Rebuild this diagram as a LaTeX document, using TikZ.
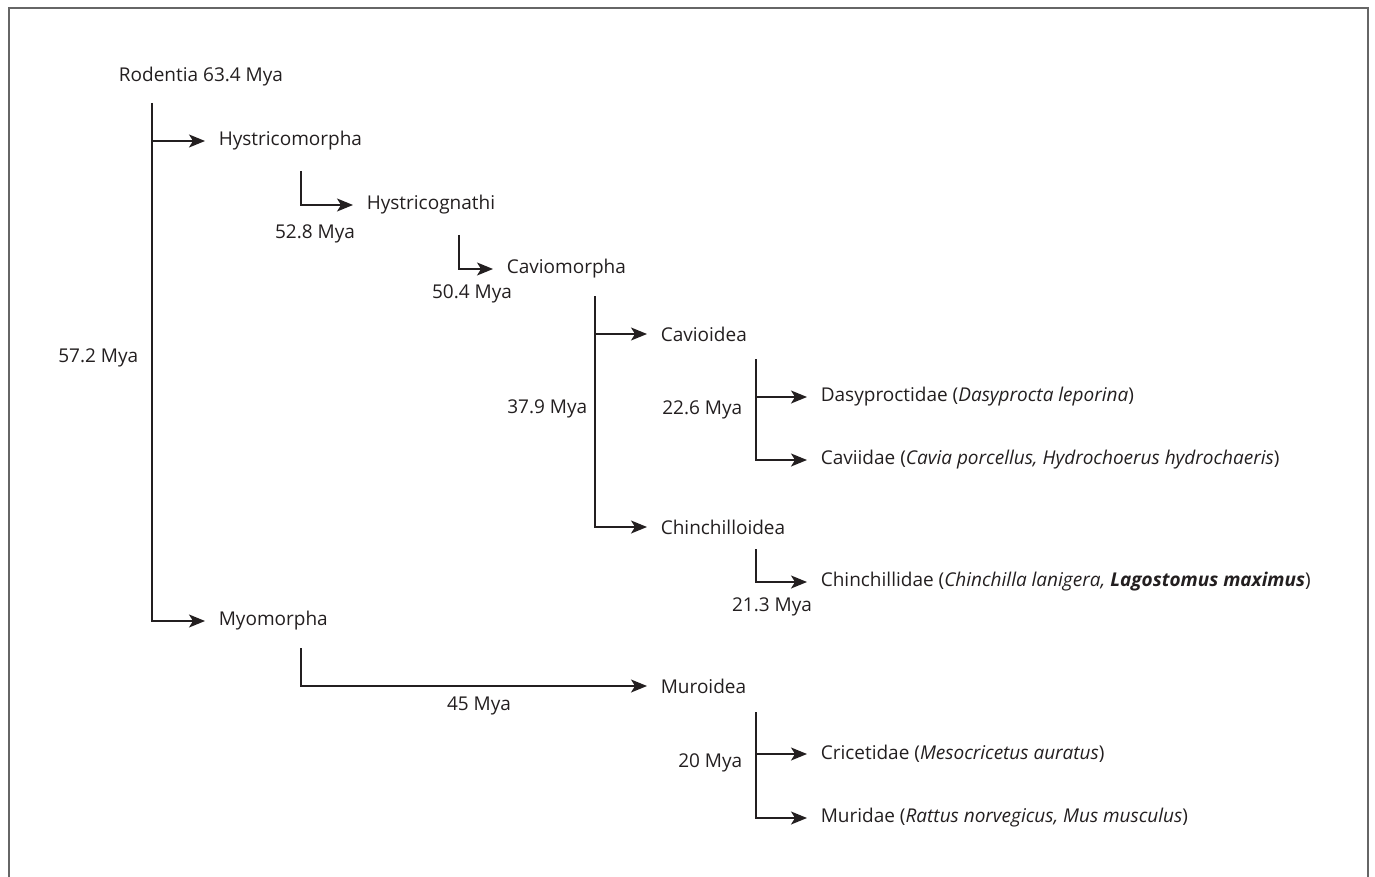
\documentclass[tikz,border=0pt]{standalone}
\usepackage{fontspec}
\setmainfont{Open Sans}
\usetikzlibrary{arrows.meta}
\definecolor{ink}{HTML}{231F20}
\definecolor{framegray}{HTML}{666666}
\begin{document}
\begin{tikzpicture}[x=1pt, y=-1pt, font=\fontsize{19}{23}\selectfont, line width=1.6pt, draw=ink,
  >={Stealth[length=16pt, width=13pt, inset=4pt]},
  taxon/.style={anchor=west, inner xsep=13pt, inner ysep=0pt, text=ink},
  age/.style={inner sep=0pt, text=ink}]
  \useasboundingbox (0,0) rectangle (1375,877);
  \draw[framegray, line width=2pt] (9,877) -- (9,8) -- (1368,8) -- (1368,877);
  % taxa
  \node[inner sep=0pt, text=ink] (rodentia) at (201,77) {Rodentia 63.4 Mya};
  \node[taxon] (hystricomorpha) at (205,141) {Hystricomorpha};
  \node[taxon] (hystricognathi) at (353,205) {Hystricognathi};
  \node[taxon] (caviomorpha) at (493,269) {Caviomorpha};
  \node[taxon] (cavioidea) at (647,334) {Cavioidea};
  \node[taxon] (dasyproctidae) at (807,397) {Dasyproctidae (\textit{Dasyprocta leporina})};
  \node[taxon] (caviidae) at (807,460) {Caviidae (\textit{Cavia porcellus, Hydrochoerus hydrochaeris})};
  \node[taxon] (chinchilloidea) at (647,527) {Chinchilloidea};
  \node[taxon] (chinchillidae) at (807,582) {Chinchillidae (\textit{Chinchilla lanigera, \textbf{Lagostomus maximus}})};
  \node[taxon] (myomorpha) at (205,621) {Myomorpha};
  \node[taxon] (muroidea) at (647,686) {Muroidea};
  \node[taxon] (cricetidae) at (807,754) {Cricetidae (\textit{Mesocricetus auratus})};
  \node[taxon] (muridae) at (807,818) {Muridae (\textit{Rattus norvegicus, Mus musculus})};
  % divergence ages
  \node[age, anchor=east] (age572) at (139,358) {57.2 Mya};
  \node[age] (age528) at (315,234) {52.8 Mya};
  \node[age] (age504) at (472,294) {50.4 Mya};
  \node[age, anchor=east] (age379) at (588,409) {37.9 Mya};
  \node[age, anchor=east] (age226) at (743,410) {22.6 Mya};
  \node[age] (age213) at (772,607) {21.3 Mya};
  \node[age] (age45) at (479,706) {45 Mya};
  \node[age, anchor=east] (age20) at (743,763) {20 Mya};
  % branch roots
  \coordinate (rodroot) at (152,103);
  \coordinate (hystroot) at (301,171);
  \coordinate (caviroot) at (459,235);
  \coordinate (superroot) at (595,296);
  \coordinate (caviiroot) at (756,359);
  \coordinate (chinroot) at (756,549);
  \coordinate (myoroot) at (301,648);
  \coordinate (muroot) at (756,712);
  % branches
  \draw[->] (rodroot) |- (myomorpha);
  \draw[->] (rodroot |- hystricomorpha) -- (hystricomorpha);
  \draw[->] (hystroot) |- (hystricognathi);
  \draw[->] (caviroot) |- (caviomorpha);
  \draw[->] (superroot) |- (chinchilloidea);
  \draw[->] (superroot |- cavioidea) -- (cavioidea);
  \draw[->] (caviiroot) |- (caviidae);
  \draw[->] (caviiroot |- dasyproctidae) -- (dasyproctidae);
  \draw[->] (chinroot) |- (chinchillidae);
  \draw[->] (myoroot) |- (muroidea);
  \draw[->] (muroot) |- (muridae);
  \draw[->] (muroot |- cricetidae) -- (cricetidae);
\end{tikzpicture}
\end{document}
